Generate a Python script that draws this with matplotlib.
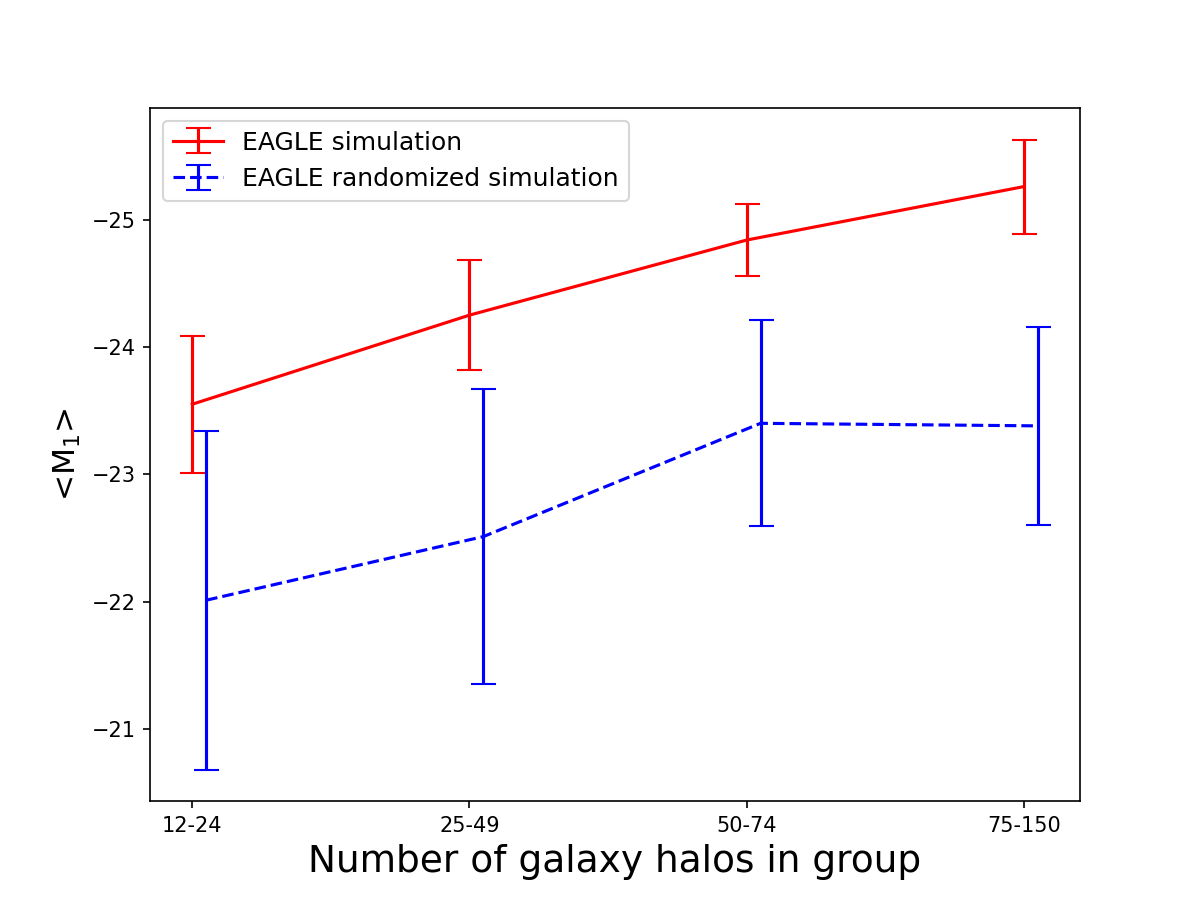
import numpy as np
import matplotlib.pyplot as plt

groups = ['12-24', '25-49', '50-74', '75-150']

# mean magnitude of the brightest galaxy, and its error
eagle_mean = [-23.55, -24.25, -24.84, -25.26]
eagle_err = [0.54, 0.43, 0.28, 0.37]

random_mean = [-22.01, -22.51, -23.40, -23.38]
random_err = [1.33, 1.16, 0.81, 0.78]

x = np.arange(len(groups))

fig, ax = plt.subplots(figsize=(8, 6), dpi=150)

ax.errorbar(x, eagle_mean, yerr=eagle_err, color='red', capsize=6,
            label='EAGLE simulation')
ax.errorbar(x + 0.05, random_mean, yerr=random_err, color='blue',
            linestyle='--', capsize=6, label='EAGLE randomized simulation')

ax.set_xticks(x)
ax.set_xticklabels(groups)
ax.invert_yaxis()
ax.set_xlabel('Number of galaxy halos in group', fontsize=18)
ax.set_ylabel('<M$_1$>', fontsize=15)
ax.legend(loc='upper left', fontsize=12)

plt.savefig('out.png', dpi=150)
